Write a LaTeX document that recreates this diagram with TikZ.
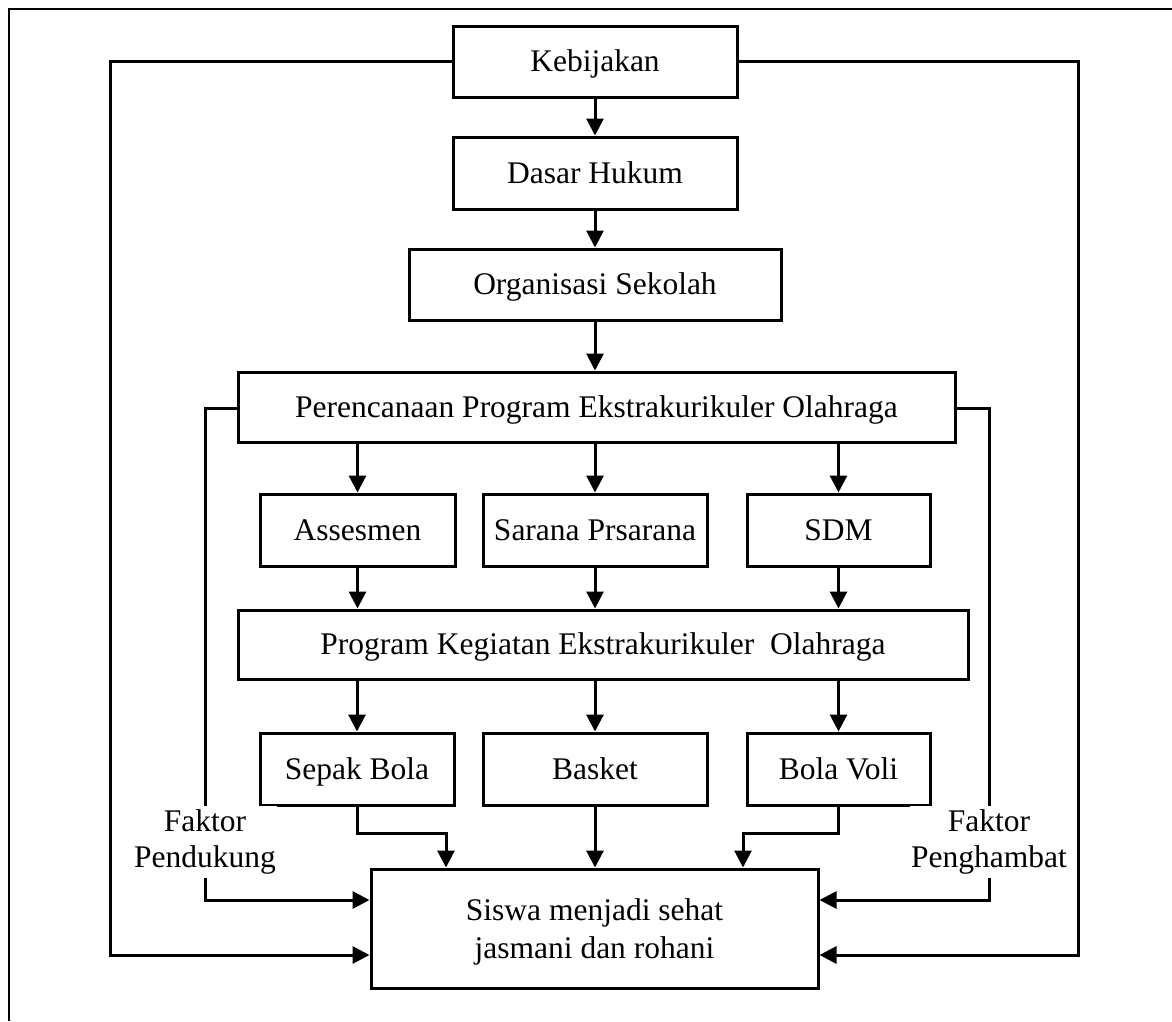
\documentclass[tikz,border=0pt]{standalone}
\usepackage{fontspec}
\setmainfont{Liberation Serif}
\usetikzlibrary{arrows.meta}
\begin{document}
\begin{tikzpicture}[x=1pt,y=-1pt,
  box/.style={draw,line width=3pt,minimum height=71pt,inner sep=0pt,align=center,text height=24pt,text depth=3.5pt,font=\fontsize{31.5}{37}\selectfont},
  arr/.style={line width=3pt,-{Triangle[length=17pt,width=17pt]}},
  lbl/.style={fill=white,inner xsep=1pt,inner ysep=4pt,align=center,font=\fontsize{31.5}{36}\selectfont}]
\useasboundingbox (0,0) rectangle (1172,1021);
\draw[line width=2pt] (9,1021) -- (9,9) -- (1172,9);
% nodes
\node[box,minimum width=284pt] (keb) at (595,61.5) {Kebijakan};
\node[box,minimum width=284pt,minimum height=72pt] (dasar) at (595,173) {Dasar Hukum};
\node[box,minimum width=372pt] (org) at (595,284.5) {Organisasi Sekolah};
\node[box,minimum width=717pt,minimum height=70pt] (per) at (596.5,407) {Perencanaan Program Ekstrakurikuler Olahraga};
\node[box,minimum width=195pt,minimum height=72pt] (ass) at (357.5,530) {Assesmen};
\node[box,minimum width=224pt,minimum height=72pt] (sar) at (595,530) {Sarana Prsarana};
\node[box,minimum width=183pt,minimum height=72pt] (sdm) at (838.5,530) {SDM};
\node[box,minimum width=730pt,minimum height=69pt] (prog) at (603,644.5) {Program Kegiatan Ekstrakurikuler\ \ Olahraga};
\node[box,minimum width=194pt,minimum height=72pt] (sepak) at (357,769) {Sepak Bola};
\node[box,minimum width=224pt,minimum height=72pt] (basket) at (595,769) {Basket};
\node[box,minimum width=183pt,minimum height=72pt] (voli) at (838.5,769) {Bola Voli};
\node[box,minimum width=447pt,minimum height=119pt,text height=,text depth=0pt,font=\fontsize{31.5}{38}\selectfont] (siswa) at (594.5,928.5) {Siswa menjadi sehat\\jasmani dan rohani};
% coordinates
\coordinate (kl) at (110,61.5);
\coordinate (kr) at (1078,61.5);
\coordinate (pl) at (205,408);
\coordinate (pr) at (989,408);
\coordinate (sb) at (446,833);
\coordinate (vb) at (743,833);
% main chain
\draw[arr] (keb) -- (dasar);
\draw[arr] (dasar) -- (org);
\draw[arr] (org) -- (org.south |- per.north);
\draw[arr] (per.south -| ass) -- (ass.north);
\draw[arr] (per.south -| sar) -- (sar.north);
\draw[arr] (per.south -| sdm) -- (sdm.north);
\draw[arr] (ass.south) -- (ass.south |- prog.north);
\draw[arr] (sar.south) -- (sar.south |- prog.north);
\draw[arr] (sdm.south) -- (sdm.south |- prog.north);
\draw[arr] (prog.south -| sepak) -- (sepak.north);
\draw[arr] (prog.south -| basket) -- (basket.north);
\draw[arr] (prog.south -| voli) -- (voli.north);
\draw[arr] (sepak.south) |- (sb) -- (sb |- siswa.north);
\draw[arr] (basket.south) -- (basket.south |- siswa.north);
\draw[arr] (voli.south) |- (vb) -- (vb |- siswa.north);
% side lines
\draw[arr] (keb.west) -- (kl) |- ([yshift=-26.5pt]siswa.west);
\draw[arr] (keb.east) -- (kr) |- ([yshift=-26.5pt]siswa.east);
\draw[arr] (per.west |- pl) -- (pl) |- ([yshift=28.5pt]siswa.west);
\draw[arr] (per.east |- pr) -- (pr) |- ([yshift=28.5pt]siswa.east);
% labels
\node[lbl] (fp) at (205,842) {Faktor\\Pendukung};
\node[lbl] (fh) at (989,842) {Faktor\\Penghambat};
\end{tikzpicture}
\end{document}
